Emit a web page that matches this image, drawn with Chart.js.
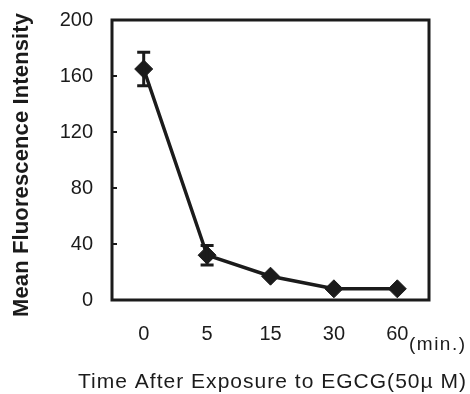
<!DOCTYPE html>
<html>
<head>
<meta charset="utf-8">
<script src="https://cdn.jsdelivr.net/npm/chart.js@4"></script>
<style>
  html, body { margin: 0; padding: 0; background: #fff; }
  #wrap { width: 470px; height: 394px; }
</style>
</head>
<body>
<div id="wrap"><canvas id="chart"></canvas></div>
<script>
const times = ["0", "5", "15", "30", "60"];
const intensity = [165, 32, 17, 8, 8];
const errors = [12, 7, 0, 0, 0];
const yTicks = [0, 40, 80, 120, 160, 200];
const xTitle = "Time After Exposure to EGCG(50\u00b5 M)";
const yTitle = "Mean Fluorescence Intensity";
const unit = "(min.)";

const ink = "#1b1b1b";
const font = "'Liberation Sans', Arial, sans-serif";

// draw text stretched to a given width (the scan's lettering is wide)
function wideText(ctx, text, cx, cy, width) {
  ctx.letterSpacing = "0px";
  const w = ctx.measureText(text).width;
  const gap = Math.max(0, (width - w) / (text.length - 1));
  ctx.letterSpacing = gap + "px";
  ctx.textAlign = "left";
  ctx.fillText(text, cx - width / 2, cy);
  ctx.letterSpacing = "0px";
}

// error bars, box frame, inner y ticks, axis titles and the (min.) unit
const extras = {
  id: "extras",
  afterDraw(chart) {
    const { ctx, chartArea: a, scales } = chart;
    const x = scales.x, y = scales.y;
    ctx.save();
    ctx.strokeStyle = ink;
    ctx.lineWidth = 3;
    intensity.forEach((v, i) => {
      if (!errors[i]) return;
      const px = x.getPixelForValue(i);
      const top = y.getPixelForValue(v + errors[i]);
      const bot = y.getPixelForValue(v - errors[i]);
      ctx.beginPath();
      ctx.moveTo(px, top); ctx.lineTo(px, bot);
      ctx.moveTo(px - 6.5, top); ctx.lineTo(px + 6.5, top);
      ctx.moveTo(px - 6.5, bot); ctx.lineTo(px + 6.5, bot);
      ctx.stroke();
    });
    ctx.strokeRect(a.left, a.top, a.right - a.left, a.bottom - a.top);
    ctx.lineWidth = 2;
    yTicks.slice(1, -1).forEach((t) => {
      const py = y.getPixelForValue(t);
      ctx.beginPath();
      ctx.moveTo(a.left, py); ctx.lineTo(a.left + 5, py);
      ctx.stroke();
    });

    ctx.fillStyle = ink;
    ctx.textBaseline = "middle";

    ctx.font = "19px " + font;
    wideText(ctx, unit, 437, 345, 56);

    ctx.font = "21px " + font;
    wideText(ctx, xTitle, 272, 382, 388);

    ctx.font = "bold 22px " + font;
    ctx.translate(22, 165);
    ctx.rotate(-Math.PI / 2);
    wideText(ctx, yTitle, 0, 0, 304);
    ctx.restore();
  },
};

new Chart(document.getElementById("chart"), {
  type: "line",
  data: {
    labels: times,
    datasets: [
      {
        label: yTitle,
        data: intensity,
        borderColor: ink,
        backgroundColor: ink,
        borderWidth: 3.5,
        pointStyle: "rectRot",
        pointRadius: 9,
        pointBorderWidth: 1,
        tension: 0,
      },
    ],
  },
  options: {
    responsive: true,
    maintainAspectRatio: false,
    animation: false,
    layout: { padding: { top: 20, right: 41, left: 0, bottom: 0 } },
    plugins: { legend: { display: false }, tooltip: { enabled: false } },
    scales: {
      x: {
        offset: true,
        grid: { display: false, drawTicks: false },
        border: { display: false },
        ticks: { color: ink, padding: 22, font: { family: font, size: 20 } },
        afterFit(scale) {
          scale.height = 94;
          scale.paddingLeft = 0;
          scale.paddingRight = 0;
        },
      },
      y: {
        min: 0,
        max: 200,
        afterBuildTicks(scale) { scale.ticks = yTicks.map((v) => ({ value: v })); },
        grid: { display: false, drawTicks: false },
        border: { display: false },
        ticks: { color: ink, padding: 19, font: { family: font, size: 20 } },
        afterFit(scale) {
          scale.width = 112;
          scale.paddingTop = 0;
          scale.paddingBottom = 0;
        },
      },
    },
  },
  plugins: [extras],
});
</script>
</body>
</html>
